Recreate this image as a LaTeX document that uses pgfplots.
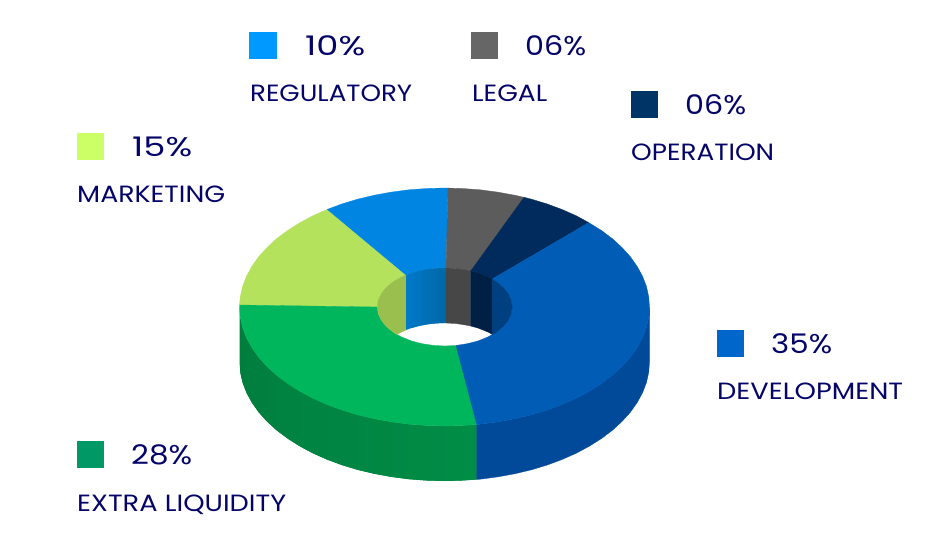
\documentclass[border=0pt]{standalone}
\usepackage{graphicx}
\usepackage{fontspec}
\setmainfont{Poppins}
\usepackage{pgfplots}
\pgfplotsset{compat=1.18}

\definecolor{txt}{RGB}{5,5,105}
\definecolor{cReg}{RGB}{0,133,227}
\definecolor{cLegal}{RGB}{92,92,92}
\definecolor{cOper}{RGB}{0,43,92}
\definecolor{cDev}{RGB}{0,92,181}
\definecolor{cLiq}{RGB}{0,182,92}
\definecolor{cMkt}{RGB}{181,226,92}
\definecolor{wLiqA}{RGB}{0,124,61}
\definecolor{wLiqD}{RGB}{0,141,70}
\definecolor{wDev}{RGB}{0,74,153}
\definecolor{wMkt}{RGB}{155,191,79}
\definecolor{wRegA}{RGB}{0,121,200}
\definecolor{wRegC}{RGB}{0,105,170}
\definecolor{wLegal}{RGB}{71,71,71}
\definecolor{wOper}{RGB}{0,31,69}
\definecolor{wDevIn}{RGB}{0,63,128}
\definecolor{kReg}{RGB}{0,153,255}
\definecolor{kLegal}{RGB}{102,102,102}
\definecolor{kOper}{RGB}{0,51,102}
\definecolor{kMkt}{RGB}{204,255,102}
\definecolor{kDev}{RGB}{0,102,204}
\definecolor{kLiq}{RGB}{0,153,102}

\pgfplotsset{
    face/.style={fill=#1,draw=#1,line width=0.3pt,no marks},
    strip/.style={fill=#1,draw=none,no marks},
    key/.style={only marks,mark=square*,mark size=13.3pt,mark options={fill=#1,draw=#1,line width=0pt}},
}
\tikzset{
    pct/.style={anchor=base west,inner sep=0pt,font=\fontsize{27}{27}\selectfont,text=txt},
    lab/.style={anchor=base west,inner sep=0pt,font=\fontsize{23.5}{25}\selectfont,text=txt},
}
\newcommand{\fitw}[2]{\resizebox{#1pt}{\height}{#2}}

\begin{document}
\begin{tikzpicture}
\begin{axis}[
    scale only axis,
    width=950pt,
    height=553pt,
    xmin=0, xmax=950,
    ymin=0, ymax=553,
    y dir=reverse,
    hide axis,
    clip=false,
]
\path (axis cs:0,0) rectangle (axis cs:950,553);

% outer wall, green part: strips overlap the next one so no seams show
\addplot[strip=wLiqD!0!wLiqA] coordinates {(239.5,307) (240.3,317.4) (242.6,327.7) (242.6,382.7) (240.3,372.4) (239.5,362)} --cycle;
\addplot[strip=wLiqD!5!wLiqA] coordinates {(240.3,317.4) (242.6,327.7) (246.5,337.8) (246.5,392.8) (242.6,382.7) (240.3,372.4)} --cycle;
\addplot[strip=wLiqD!10!wLiqA] coordinates {(242.6,327.7) (246.5,337.8) (251.9,347.7) (251.9,402.7) (246.5,392.8) (242.6,382.7)} --cycle;
\addplot[strip=wLiqD!15!wLiqA] coordinates {(246.5,337.8) (251.9,347.7) (258.7,357.3) (258.7,412.3) (251.9,402.7) (246.5,392.8)} --cycle;
\addplot[strip=wLiqD!20!wLiqA] coordinates {(251.9,347.7) (258.7,357.3) (267,366.5) (267,421.5) (258.7,412.3) (251.9,402.7)} --cycle;
\addplot[strip=wLiqD!25!wLiqA] coordinates {(258.7,357.3) (267,366.5) (276.6,375.3) (276.6,430.3) (267,421.5) (258.7,412.3)} --cycle;
\addplot[strip=wLiqD!30!wLiqA] coordinates {(267,366.5) (276.6,375.3) (287.5,383.5) (287.5,438.5) (276.6,430.3) (267,421.5)} --cycle;
\addplot[strip=wLiqD!35!wLiqA] coordinates {(276.6,375.3) (287.5,383.5) (299.5,391.1) (299.5,446.1) (287.5,438.5) (276.6,430.3)} --cycle;
\addplot[strip=wLiqD!40!wLiqA] coordinates {(287.5,383.5) (299.5,391.1) (312.7,398.2) (312.7,453.2) (299.5,446.1) (287.5,438.5)} --cycle;
\addplot[strip=wLiqD!45!wLiqA] coordinates {(299.5,391.1) (312.7,398.2) (326.9,404.5) (326.9,459.5) (312.7,453.2) (299.5,446.1)} --cycle;
\addplot[strip=wLiqD!50!wLiqA] coordinates {(312.7,398.2) (326.9,404.5) (342,410.1) (342,465.1) (326.9,459.5) (312.7,453.2)} --cycle;
\addplot[strip=wLiqD!55!wLiqA] coordinates {(326.9,404.5) (342,410.1) (357.9,414.9) (357.9,469.9) (342,465.1) (326.9,459.5)} --cycle;
\addplot[strip=wLiqD!60!wLiqA] coordinates {(342,410.1) (357.9,414.9) (374.4,418.8) (374.4,473.8) (357.9,469.9) (342,465.1)} --cycle;
\addplot[strip=wLiqD!65!wLiqA] coordinates {(357.9,414.9) (374.4,418.8) (391.4,421.9) (391.4,476.9) (374.4,473.8) (357.9,469.9)} --cycle;
\addplot[strip=wLiqD!70!wLiqA] coordinates {(374.4,418.8) (391.4,421.9) (408.9,424.2) (408.9,479.2) (391.4,476.9) (374.4,473.8)} --cycle;
\addplot[strip=wLiqD!75!wLiqA] coordinates {(391.4,421.9) (408.9,424.2) (426.6,425.5) (426.6,480.5) (408.9,479.2) (391.4,476.9)} --cycle;
\addplot[strip=wLiqD!80!wLiqA] coordinates {(408.9,424.2) (426.6,425.5) (444.5,426) (444.5,481) (426.6,480.5) (408.9,479.2)} --cycle;
\addplot[strip=wLiqD!85!wLiqA] coordinates {(426.6,425.5) (444.5,426) (462.4,425.5) (462.4,480.5) (444.5,481) (426.6,480.5)} --cycle;
\addplot[strip=wLiqD!92!wLiqA] coordinates {(444.5,426) (462.4,425.5) (476.7,424.5) (476.7,479.5) (462.4,480.5) (444.5,481)} --cycle;
\addplot[strip=wLiqD] coordinates {(462.4,425.5) (476.7,424.5) (476.7,479.5) (462.4,480.5)} --cycle;

% outer wall, blue part
\addplot[face=wDev] coordinates {
    (476.7,424.5) (480.1,424.2) (497.6,421.9) (514.6,418.8) (531.1,414.9) (547,410.1) (562.1,404.5) (576.3,398.2)
    (589.5,391.1) (601.5,383.5) (612.4,375.3) (622,366.5) (630.3,357.3) (637.1,347.7) (642.5,337.8) (646.4,327.7)
    (648.7,317.4) (649.5,307) (649.5,362) (648.7,372.4) (646.4,382.7) (642.5,392.8) (637.1,402.7) (630.3,412.3)
    (622,421.5) (612.4,430.3) (601.5,438.5) (589.5,446.1) (576.3,453.2) (562.1,459.5) (547,465.1) (531.1,469.9)
    (514.6,473.8) (497.6,476.9) (480.1,479.2) (476.7,479.5)
} --cycle;

% top faces
\addplot[face=cMkt] coordinates {
    (239.5,305) (240.3,296.6) (242.6,286.3) (246.5,276.2) (251.9,266.3) (258.7,256.7) (267,247.5) (276.6,238.7)
    (287.5,230.5) (299.5,222.9) (312.7,215.8) (327.3,209.4)
    (406,275) (401.3,277.1) (393,281.9) (386.2,287.5) (381.3,293.7) (378.2,300.2) (377.2,307)
} --cycle;
\addplot[face=cReg] coordinates {
    (327.3,209.4) (342,203.9) (357.9,199.1) (374.4,195.2) (391.4,192.1) (408.9,189.8) (426.6,188.5) (444.5,188) (448,188.1)
    (446,268) (444.7,268) (433,268.6) (421.6,270.4) (410.9,273.2) (406,275)
} --cycle;
\addplot[face=cLegal] coordinates {
    (448,188.1) (462.4,188.5) (480.1,189.8) (497.6,192.1) (514.6,195.2) (524,197.3)
    (470.7,271) (467.8,270.4) (456.4,268.6) (446,268)
} --cycle;
\addplot[face=cOper] coordinates {
    (524,197.3) (531.1,199.1) (547,203.9) (562.1,209.5) (576.3,215.8) (588.7,222.6)
    (492,279.2) (488.1,277.1) (478.5,273.2) (470.7,271)
} --cycle;
\addplot[face=cLiq] coordinates {
    (476.7,424.5) (462.4,425.5) (444.5,426) (426.6,425.5) (408.9,424.2) (391.4,421.9) (374.4,418.8) (357.9,414.9)
    (342,410.1) (326.9,404.5) (312.7,398.2) (299.5,391.1) (287.5,383.5) (276.6,375.3) (267,366.5) (258.7,357.3)
    (251.9,347.7) (246.5,337.8) (242.6,327.7) (240.3,317.4) (239.5,307) (239.5,305)
    (377.2,307) (378.2,313.8) (381.3,320.3) (386.2,326.5) (393,332.1) (401.3,336.9) (410.9,340.8)
    (421.6,343.6) (433,345.4) (444.7,346) (456,345.5)
} --cycle;
\addplot[face=cDev] coordinates {
    (588.7,222.6) (601.5,230.5) (612.4,238.7) (622,247.5) (630.3,256.7) (637.1,266.3) (642.5,276.2) (646.4,286.3)
    (648.7,296.6) (649.5,307) (648.7,317.4) (646.4,327.7) (642.5,337.8) (637.1,347.7) (630.3,357.3) (622,366.5)
    (612.4,375.3) (601.5,383.5) (589.5,391.1) (576.3,398.2) (562.1,404.5) (547,410.1) (531.1,414.9) (514.6,418.8)
    (497.6,421.9) (480.1,424.2) (476.7,424.5)
    (456,345.5) (467.8,343.6) (478.5,340.8) (488.1,336.9) (496.4,332.1) (503.2,326.5) (508.1,320.3)
    (511.2,313.8) (512.2,307) (511.2,300.2) (508.1,293.7) (503.2,287.5) (496.4,281.9) (492,279.2)
} --cycle;

% inner walls
\addplot[face=wMkt] coordinates {
    (377.2,307) (378.2,300.2) (381.3,293.7) (386.2,287.5) (393,281.9) (401.3,277.1) (406,275)
    (406,330) (401.3,332.1) (396.8,334.5) (393,332.1) (386.2,326.5) (381.3,320.3) (378.2,313.8)
} --cycle;
\addplot[strip=wRegC!0!wRegA] coordinates {(406,275) (410.9,273.2) (416,271.7) (416,326.7) (410.9,328.2) (406,330)} --cycle;
\addplot[strip=wRegC!15!wRegA] coordinates {(410.9,273.2) (416,271.7) (421.6,270.4) (421.6,325.4) (416,326.7) (410.9,328.2)} --cycle;
\addplot[strip=wRegC!30!wRegA] coordinates {(416,271.7) (421.6,270.4) (427,269.4) (427,324.4) (421.6,325.4) (416,326.7)} --cycle;
\addplot[strip=wRegC!50!wRegA] coordinates {(421.6,270.4) (427,269.4) (433,268.6) (433,323.6) (427,324.4) (421.6,325.4)} --cycle;
\addplot[strip=wRegC!65!wRegA] coordinates {(427,269.4) (433,268.6) (439,268.2) (439,323.2) (433,323.6) (427,324.4)} --cycle;
\addplot[strip=wRegC!85!wRegA] coordinates {(433,268.6) (439,268.2) (444.7,268) (444.7,323) (439,323.2) (433,323.6)} --cycle;
\addplot[strip=wRegC] coordinates {(439,268.2) (444.7,268) (446.2,268) (446.2,323) (444.7,323) (439,323.2)} --cycle;
\addplot[face=wLegal] coordinates {
    (446,268) (456.4,268.6) (467.8,270.4) (470.7,271)
    (470.7,326) (467.8,325.4) (456.4,323.6) (446,323)
} --cycle;
\addplot[face=wOper] coordinates {
    (470.7,271) (478.5,273.2) (488.1,277.1) (492,279.2)
    (492,334.2) (488.1,332.1) (478.5,328.2) (470.7,326)
} --cycle;
\addplot[face=wDevIn] coordinates {
    (492,279.2) (496.4,281.9) (503.2,287.5) (508.1,293.7) (511.2,300.2) (512.2,307)
    (511.2,313.8) (508.1,320.3) (503.2,326.5) (496.4,332.1) (492.6,334.5) (492,334.2)
} --cycle;

% legend squares
\addplot[key=kReg] coordinates {(263,45.5)};
\addplot[key=kLegal] coordinates {(484.5,45.5)};
\addplot[key=kOper] coordinates {(644.5,104.5)};
\addplot[key=kMkt] coordinates {(90.5,146.5)};
\addplot[key=kDev] coordinates {(730.5,343.5)};
\addplot[key=kLiq] coordinates {(90.5,454.5)};

\node[pct] at (axis cs:305,55.2) {\fitw{60}{10\%}};
\node[lab] at (axis cs:250,101.2) {\fitw{162}{REGULATORY}};
\node[pct] at (axis cs:525,55.2) {\fitw{61}{06\%}};
\node[lab] at (axis cs:472,101.2) {\fitw{75}{LEGAL}};
\node[pct] at (axis cs:685,114.2) {\fitw{61}{06\%}};
\node[lab] at (axis cs:631,160.2) {\fitw{143}{OPERATION}};
\node[pct] at (axis cs:132,156.2) {\fitw{60}{15\%}};
\node[lab] at (axis cs:77,202.2) {\fitw{148}{MARKETING}};
\node[pct] at (axis cs:771,353.2) {\fitw{61}{35\%}};
\node[lab] at (axis cs:717,399.2) {\fitw{186}{DEVELOPMENT}};
\node[pct] at (axis cs:131,464.2) {\fitw{61}{28\%}};
\node[lab] at (axis cs:77,511.2) {\fitw{209}{EXTRA LIQUIDITY}};
\end{axis}
\end{tikzpicture}
\end{document}
